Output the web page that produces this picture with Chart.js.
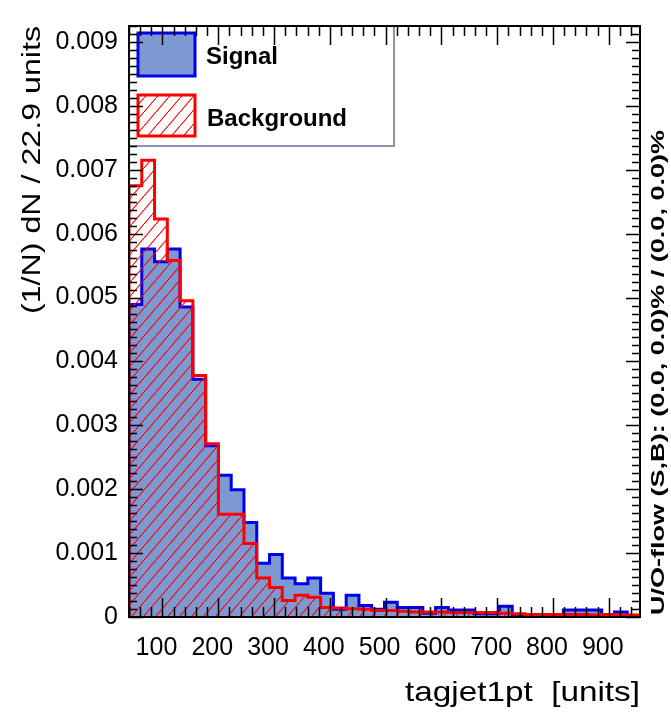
<!DOCTYPE html>
<html>
<head>
<meta charset="utf-8">
<title>tagjet1pt</title>
<script src="https://cdn.jsdelivr.net/npm/chart.js@4.4.1/dist/chart.umd.min.js"></script>
<style>
  html, body { margin: 0; padding: 0; background: #fff; }
  #wrap { width: 671px; height: 723px; }
</style>
</head>
<body>
<div id="wrap"><canvas id="histChart" width="671" height="723"></canvas></div>
<script>
// binning of tagjet1pt: 40 bins of 22.9 units
const xMin = 40;
const binWidth = 22.9;
const nBins = 40;

// (1/N) dN per bin
const signalValues = [
  0.00489, 0.00576, 0.00556, 0.00576, 0.00485, 0.00372, 0.00268, 0.00222, 0.00199, 0.00148,
  0.00084, 0.00098, 0.00061, 0.00052, 0.00061, 0.00037, 0.00012, 0.00034, 0.00018, 0.00012,
  0.00023, 0.00015, 0.00015, 0.00006, 0.00015, 0.00011, 0.00011, 0.00005, 0.00005, 0.00017,
  0.00003, 0.00003, 0.00002, 0.00003, 0.00011, 0.00011, 0.00011, 0.00004, 0.00008, 0.00002
];
const backgroundValues = [
  0.00675, 0.00715, 0.00623, 0.00558, 0.00495, 0.00378, 0.00271, 0.00161, 0.00161, 0.00115,
  0.00061, 0.00046, 0.00026, 0.00034, 0.00031, 0.00015, 0.00014, 0.00013, 0.00012, 0.00010,
  0.00010, 0.00009, 0.00008, 0.00008, 0.00008, 0.00007, 0.00007, 0.00007, 0.00007, 0.00006,
  0.00005, 0.00004, 0.00004, 0.00004, 0.00004, 0.00004, 0.00003, 0.00004, 0.00003, 0.00003
];

// axis ticks
const xTicks = [100, 200, 300, 400, 500, 600, 700, 800, 900];
const yTicks = [0, 0.001, 0.002, 0.003, 0.004, 0.005, 0.006, 0.007, 0.008, 0.009];
const xMinorStep = 20;
const yMinorStep = 0.000125;
const yMax = 0.00925;

const FONT = "'Liberation Sans', Arial, Helvetica, sans-serif";

// points at the low edge of every bin, closed down to zero at both ends
function histPoints(values) {
  const pts = [{x: xMin, y: 0}];
  values.forEach((v, i) => pts.push({x: xMin + i * binWidth, y: v}));
  pts.push({x: xMin + values.length * binWidth, y: 0});
  return pts;
}

// red "/" hatching like ROOT fill style 3554
function makeHatch() {
  const c = document.createElement('canvas');
  c.width = 12;
  c.height = 14;
  const g = c.getContext('2d');
  g.strokeStyle = '#ff0000';
  g.lineWidth = 1.1;
  g.beginPath();
  g.moveTo(-1, 14 + 14 / 12);
  g.lineTo(13, -14 / 12);
  g.stroke();
  return g.createPattern(c, 'repeat');
}
const hatch = makeHatch();

// draws text, optionally stretched along its baseline to a given length
function stretchedText(ctx, text, x, y, rot, align, size, weight, length) {
  ctx.save();
  ctx.translate(x, y);
  ctx.rotate(rot);
  ctx.font = weight + ' ' + size + 'px ' + FONT;
  const w = ctx.measureText(text).width;
  const k = length ? length / w : 1;
  ctx.scale(k, 1);
  ctx.textAlign = align;
  ctx.textBaseline = 'middle';
  ctx.fillStyle = '#000';
  ctx.fillText(text, 0, 0);
  ctx.restore();
}

const rootFrame = {
  id: 'rootFrame',
  afterDatasetsDraw(chart) {
    const {ctx, chartArea: a, scales: {x, y}} = chart;
    ctx.save();

    // legend box
    const lw = 265, lh = 120;
    ctx.fillStyle = '#fff';
    ctx.fillRect(a.left, a.top, lw, lh);
    ctx.strokeStyle = '#8a96ae';
    ctx.lineWidth = 2;
    ctx.strokeRect(a.left, a.top, lw, lh);

    ctx.lineWidth = 3;
    ctx.fillStyle = '#7d99d1';
    ctx.fillRect(a.left + 9, a.top + 7, 57, 43);
    ctx.strokeStyle = '#0000ee';
    ctx.strokeRect(a.left + 9, a.top + 7, 57, 43);
    ctx.fillStyle = hatch;
    ctx.fillRect(a.left + 9, a.top + 69, 57, 41);
    ctx.strokeStyle = '#ff0000';
    ctx.strokeRect(a.left + 9, a.top + 69, 57, 41);

    ctx.fillStyle = '#000';
    ctx.font = 'bold 24px ' + FONT;
    ctx.textAlign = 'left';
    ctx.textBaseline = 'middle';
    ctx.fillText('Signal', a.left + 77, a.top + 31);
    ctx.fillText('Background', a.left + 78, a.top + 93);

    // ticks pointing into the frame on all four sides
    ctx.strokeStyle = '#000';
    ctx.lineWidth = 1.5;
    ctx.beginPath();
    for (let v = Math.ceil(xMin / xMinorStep) * xMinorStep; v <= x.max; v += xMinorStep) {
      const px = Math.round(x.getPixelForValue(v)) + 0.5;
      const len = xTicks.includes(v) ? 19 : 10;
      ctx.moveTo(px, a.bottom); ctx.lineTo(px, a.bottom - len);
      ctx.moveTo(px, a.top); ctx.lineTo(px, a.top + len);
    }
    for (let i = 0; i * yMinorStep <= yMax; i++) {
      const v = i * yMinorStep;
      const py = Math.round(y.getPixelForValue(v)) + 0.5;
      const len = i % 8 === 0 ? 14 : 8;
      ctx.moveTo(a.left, py); ctx.lineTo(a.left + len, py);
      ctx.moveTo(a.right, py); ctx.lineTo(a.right - len, py);
    }
    ctx.stroke();

    ctx.lineWidth = 2;
    ctx.strokeRect(a.left, a.top, a.right - a.left, a.bottom - a.top);
    ctx.restore();
  },
  afterDraw(chart) {
    const {ctx, chartArea: a} = chart;
    stretchedText(ctx, '(1/N) dN / 22.9 units', 33, a.top, -Math.PI / 2, 'right', 25, 'normal', 288);
    stretchedText(ctx, 'tagjet1pt  [units]', a.right, 693, 0, 'right', 28, 'normal', 235);
    stretchedText(ctx, 'U/O-flow (S,B): (0.0, 0.0)% / (0.0, 0.0)%', 659, a.bottom - 2, -Math.PI / 2, 'left', 18, 'bold', 485);
  }
};

const ctx = document.getElementById('histChart').getContext('2d');
new Chart(ctx, {
  type: 'line',
  data: {
    datasets: [
      {
        label: 'Signal',
        data: histPoints(signalValues),
        order: 2, // drawn first, under the background
        stepped: true,
        borderColor: '#0000ee',
        borderWidth: 3,
        backgroundColor: '#7d99d1',
        fill: 'origin',
        pointRadius: 0,
        tension: 0
      },
      {
        label: 'Background',
        data: histPoints(backgroundValues),
        order: 1,
        stepped: true,
        borderColor: '#ff0000',
        borderWidth: 3,
        backgroundColor: hatch,
        fill: 'origin',
        pointRadius: 0,
        tension: 0
      }
    ]
  },
  options: {
    responsive: false,
    animation: false,
    devicePixelRatio: 1,
    layout: { padding: { top: 12, right: 31, left: 0, bottom: 0 } },
    plugins: { legend: { display: false }, tooltip: { enabled: false } },
    scales: {
      x: {
        type: 'linear',
        min: xMin,
        max: xMin + nBins * binWidth,
        afterFit: s => { s.height = 106; },
        afterBuildTicks: s => { s.ticks = xTicks.map(v => ({ value: v })); },
        grid: { display: false, drawTicks: false },
        border: { display: false },
        ticks: {
          color: '#000',
          font: { family: FONT, size: 25 },
          padding: 16,
          maxRotation: 0,
          autoSkip: false,
          labelOffset: -6
        }
      },
      y: {
        type: 'linear',
        min: 0,
        max: yMax,
        afterFit: s => { s.width = 129; },
        afterBuildTicks: s => { s.ticks = yTicks.map(v => ({ value: v })); },
        grid: { display: false, drawTicks: false },
        border: { display: false },
        ticks: {
          color: '#000',
          font: { family: FONT, size: 25 },
          padding: 11,
          autoSkip: false,
          callback: v => v === 0 ? '0' : v.toFixed(3)
        }
      }
    }
  },
  plugins: [rootFrame]
});
</script>
</body>
</html>
